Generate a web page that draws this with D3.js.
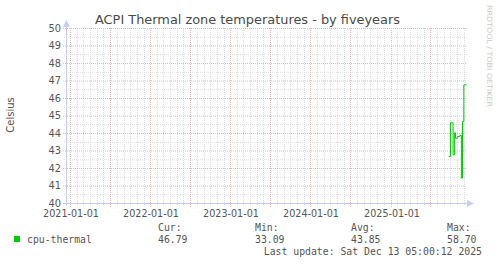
<!DOCTYPE html>
<html>
<head>
<meta charset="utf-8">
<script src="https://cdn.jsdelivr.net/npm/d3@7"></script>
<style>
  body { margin: 0; background: #fff; }
  svg { display: block; }
  text { font-family: "DejaVu Sans", sans-serif; fill: #555; }
  .mono { font-family: "DejaVu Sans Mono", monospace; }
</style>
</head>
<body>
<script>
/***********************************************************************************/
// Data

var title = 'ACPI Thermal zone temperatures - by fiveyears';
var yLabel = 'Celsius';
var seriesName = 'cpu-thermal';
var sampleDates = ['2025-09-23', '2025-10-01', '2025-10-13', '2025-10-20', '2025-10-24',
                   '2025-11-03', '2025-11-13', '2025-11-20', '2025-11-25', '2025-12-01'];
var sampleTemps = [42.69, 44.61, 42.78, 44.04, 43.73, 43.83, 43.89, 41.45, 44.69, 46.78];
var yTicks = [40, 41, 42, 43, 44, 45, 46, 47, 48, 49, 50];
var xTickLabels = ['2021-01-01', '2022-01-01', '2023-01-01', '2024-01-01', '2025-01-01'];
var legendHeads = ['Cur:', 'Min:', 'Avg:', 'Max:'];
var legendValues = ['46.79', '33.09', '43.85', '58.70'];
var lastUpdate = 'Last update: Sat Dec 13 05:00:12 2025';
var startDate = new Date(2020, 11, 14, 5, 0, 12);
var endDate = new Date(2025, 11, 13, 5, 0, 12);

/***********************************************************************************/
// Setup

var W = 497, H = 264;
var svg = d3.select('body').append('svg').attr('width', W).attr('height', H);

var x = d3.scaleTime().domain([startDate, endDate]).range([66.5, 466.5]);
var y = d3.scaleLinear().domain([40, 50]).range([203.5, 28.5]);

var parse = d3.timeParse('%Y-%m-%d');
var points = sampleDates.map(function(d, i){ return { date: parse(d), value: sampleTemps[i] }; });
points.push({ date: endDate, value: sampleTemps[sampleTemps.length - 1] });

var minorColor = '#dcdcdc', majorColor = '#eab4b4', axisColor = '#c6cdf6';

/***********************************************************************************/
// Grid

var grid = svg.append('g');

// minor horizontal every 0.5
grid.selectAll('.hminor').data(d3.range(40.5, 50, 1)).enter().append('line')
  .attr('x1', 64).attr('x2', 466.5)
  .attr('y1', function(d){ return y(d); }).attr('y2', function(d){ return y(d); })
  .attr('stroke', minorColor).attr('stroke-dasharray', '1,1');

// minor vertical every month
var months = d3.timeMonth.range(d3.timeMonth.ceil(startDate), endDate);
grid.selectAll('.vminor').data(months).enter().append('line')
  .attr('x1', function(d){ return Math.round(x(d)) + 0.5; }).attr('x2', function(d){ return Math.round(x(d)) + 0.5; })
  .attr('y1', 28).attr('y2', 206)
  .attr('stroke', minorColor).attr('stroke-dasharray', '1,1');

// major horizontal every degree
grid.selectAll('.hmajor').data(yTicks.slice(1)).enter().append('line')
  .attr('x1', 63).attr('x2', 466.5)
  .attr('y1', function(d){ return y(d); }).attr('y2', function(d){ return y(d); })
  .attr('stroke', majorColor).attr('stroke-dasharray', '1,1');

// major vertical every half year
var halfYears = d3.timeMonth.every(6).range(d3.timeMonth.ceil(startDate), endDate);
grid.selectAll('.vmajor').data(halfYears).enter().append('line')
  .attr('x1', function(d){ return Math.round(x(d)) + 0.5; }).attr('x2', function(d){ return Math.round(x(d)) + 0.5; })
  .attr('y1', 28).attr('y2', 207)
  .attr('stroke', majorColor).attr('stroke-dasharray', '1,1');

/***********************************************************************************/
// Axes

svg.append('line').attr('x1', 66.5).attr('x2', 66.5).attr('y1', 24).attr('y2', 206)
  .attr('stroke', axisColor);
svg.append('line').attr('x1', 63).attr('x2', 470).attr('y1', 203.5).attr('y2', 203.5)
  .attr('stroke', axisColor);
svg.append('path').attr('d', 'M63,27 L66.5,20 L70,27 Z').attr('fill', axisColor);
svg.append('path').attr('d', 'M467,200 L474,203.5 L467,207 Z').attr('fill', axisColor);

svg.selectAll('.ylab').data(yTicks).enter().append('text')
  .attr('x', 61).attr('y', function(d){ return y(d) + 3; })
  .attr('text-anchor', 'end').style('font-size', '9.8px')
  .text(function(d){ return d; });

var fmt = d3.timeFormat('%Y-%m-%d');
var yearTicks = xTickLabels.map(function(s){ return parse(s); });
svg.selectAll('.xlab').data(yearTicks).enter().append('text')
  .attr('x', function(d){ return Math.round(x(d)) + 1; }).attr('y', 216.5)
  .attr('text-anchor', 'middle').style('font-size', '9.6px')
  .text(function(d){ return fmt(d); });

/***********************************************************************************/
// Series

var line = d3.line()
  .x(function(d){ return x(d.date); })
  .y(function(d){ return y(d.value); })
  .curve(d3.curveStepAfter);

svg.append('path').datum(points).attr('d', line)
  .attr('fill', 'none').attr('stroke', '#00cc00').attr('stroke-width', 1);

/***********************************************************************************/
// Texts

svg.append('text').attr('x', 247.5).attr('y', 23.5).attr('text-anchor', 'middle')
  .style('font-size', '12.9px').style('fill', '#4a4a4a').text(title);

svg.append('text').attr('transform', 'translate(14,115) rotate(-90)')
  .attr('text-anchor', 'middle').style('font-size', '10px').text(yLabel);

svg.append('text').attr('transform', 'translate(487,5) rotate(90)')
  .attr('textLength', 102).attr('lengthAdjust', 'spacingAndGlyphs')
  .style('font-size', '7px').style('fill', '#c8c8c8').text('RRDTOOL / TOBI OETIKER');

/***********************************************************************************/
// Legend

var legX = [158, 255, 351, 447];
svg.append('rect').attr('x', 14).attr('y', 236).attr('width', 6).attr('height', 6).attr('fill', '#00cc00');
svg.append('text').attr('class', 'mono').attr('x', 27).attr('y', 242.5)
  .style('font-size', '9.8px').text(seriesName);
svg.selectAll('.lhead').data(legendHeads).enter().append('text').attr('class', 'mono')
  .attr('x', function(d, i){ return legX[i]; }).attr('y', 231)
  .style('font-size', '9.8px').text(function(d){ return d; });
svg.selectAll('.lval').data(legendValues).enter().append('text').attr('class', 'mono')
  .attr('x', function(d, i){ return legX[i]; }).attr('y', 242.5)
  .style('font-size', '9.8px').text(function(d){ return d; });
svg.append('text').attr('class', 'mono').attr('x', 482).attr('y', 255)
  .attr('text-anchor', 'end').style('font-size', '9.8px').text(lastUpdate);
</script>
</body>
</html>
